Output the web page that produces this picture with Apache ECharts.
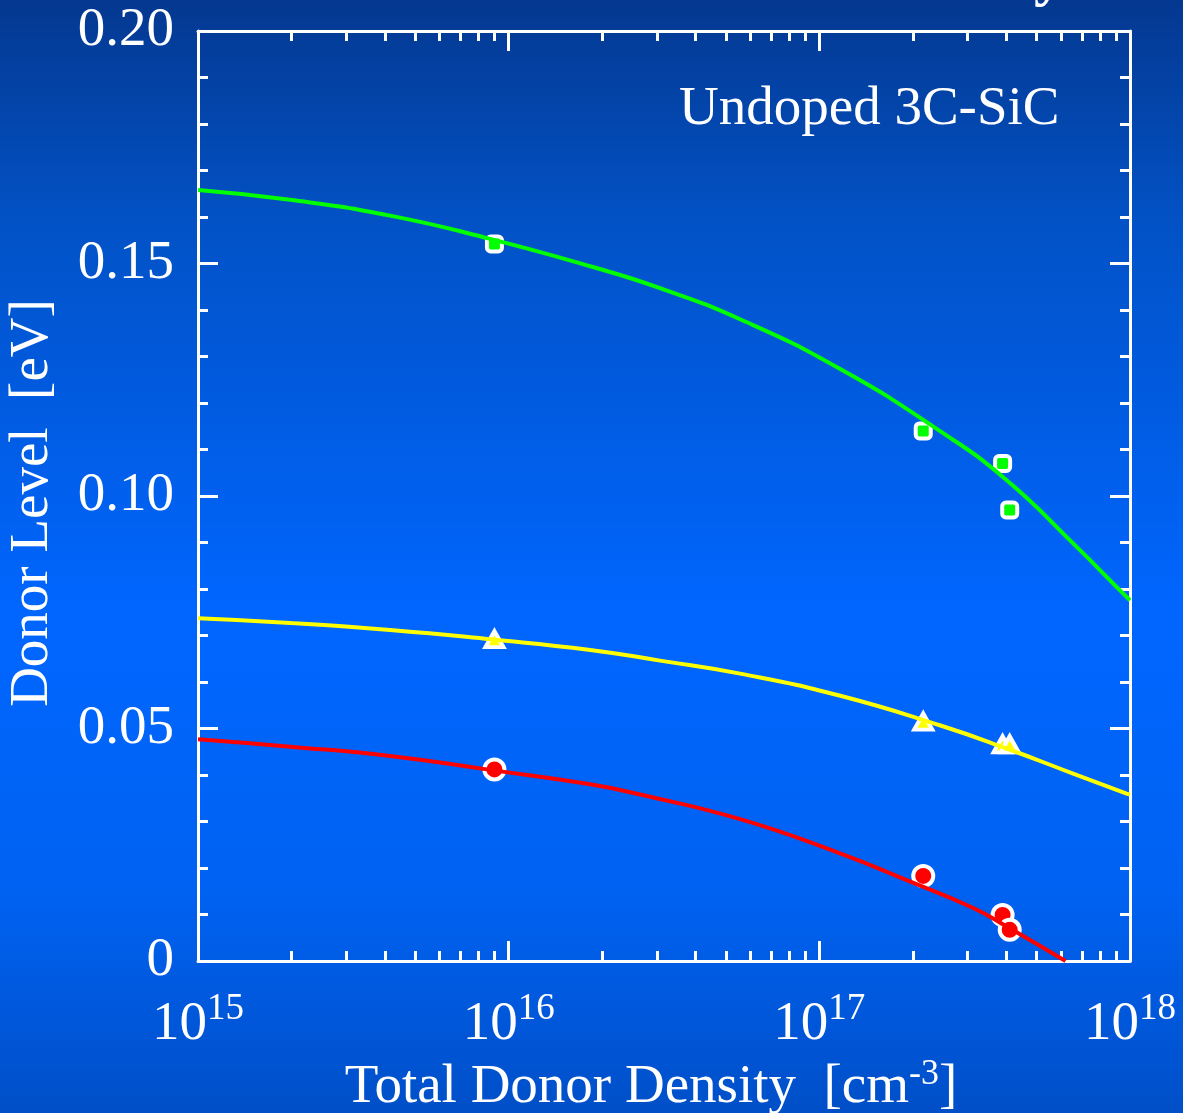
<!DOCTYPE html>
<html><head><meta charset="utf-8">
<script src="https://cdn.jsdelivr.net/npm/echarts@6/dist/echarts.min.js"></script>
<style>html,body{margin:0;padding:0;background:#0060f0}#c{width:1183px;height:1113px}</style>
</head><body><div id="c"></div>
<script>
// ---- data ----
const curveDensityGY = [1.0e15, 1.98e15, 4.15e15, 8.71e15, 1.83e16, 3.07e16, 5.56e16, 1.16e17, 2.44e17, 4.01e17, 6.56e17, 9.75e17, 1.0e18];
const curveGreen  = [0.1658, 0.1637, 0.1603, 0.1553, 0.1494, 0.1447, 0.1380, 0.1274, 0.1140, 0.1034, 0.0898, 0.0783, 0.0776];
const curveYellow = [0.0737, 0.0727, 0.0712, 0.0692, 0.0669, 0.0646, 0.0618, 0.0571, 0.0507, 0.0457, 0.0403, 0.0360, 0.0358];
const curveDensityR = [1.0e15, 1.98e15, 4.15e15, 8.71e15, 1.83e16, 2.65e16, 5.56e16, 1.16e17, 1.91e17, 3.13e17, 4.01e17, 6.2e17];
const curveRed    = [0.0477, 0.0461, 0.0441, 0.0411, 0.0380, 0.0358, 0.0305, 0.0232, 0.0174, 0.0114, 0.0074, 0.0];
const sampleDensity = [9.0e15, 2.16e17, 3.89e17, 4.10e17];
const pointsGreen  = [0.1542, 0.1140, 0.1070, 0.0970];
const pointsYellow = [0.0692, 0.0515, 0.0466, 0.0466];
const pointsRed    = [0.0412, 0.0183, 0.0099, 0.0067];
const xTickExponents = ['15', '16', '17', '18'];
const xMinorTicks = [];
[1e15, 1e16, 1e17].forEach(d => { for (let m = 2; m <= 9; m++) xMinorTicks.push(m * d); });
const yTickLabels = ['0', '0.05', '0.10', '0.15', '0.20'];
const textNote = 'Undoped 3C-SiC';
const xName = 'Total Donor Density  [cm{s|-3}]';
const yName = 'Donor Level  [eV]';

const FONT = '"Liberation Serif", "DejaVu Serif", serif';
const WHITE = '#ffffff';
const zip = (xs, ys) => xs.map((x, i) => [x, ys[i]]);

const chart = echarts.init(document.getElementById('c'), null, {renderer: 'canvas'});

function xAxisDef(pos, minor, main) {
  const tick = {show: true, inside: true, length: minor ? 10 : 20, lineStyle: {color: WHITE, width: 3}};
  if (minor) tick.customValues = xMinorTicks;
  return {
    type: 'log', logBase: 10, min: 1e15, max: 1e18, position: pos, gridIndex: 0,
    axisLine: {show: !minor, lineStyle: {color: WHITE, width: 3}},
    axisTick: tick,
    axisLabel: main ? {
      show: true, margin: 30, showMaxLabel: true, showMinLabel: true, hideOverlap: false,
      formatter: v => {
        const i = Math.round(Math.log10(v)) - 15;
        return '{b|10}{s|' + xTickExponents[Math.max(0, Math.min(3, i))] + '}';
      },
      rich: {
        b: {fontFamily: FONT, fontSize: 55, color: WHITE},
        s: {fontFamily: FONT, fontSize: 37, color: WHITE, padding: [0, 0, 30, 0]}
      }
    } : {show: false},
    splitLine: {show: false},
    name: main ? xName : '',
    nameLocation: 'middle', nameGap: 92,
    nameTextStyle: {fontFamily: FONT, fontSize: 55, color: WHITE, padding: [0, 26, 0, 0],
      rich: {s: {fontFamily: FONT, fontSize: 36, color: WHITE, padding: [0, 0, 26, 0]}}}
  };
}
function yAxisDef(pos, main) {
  return {
    type: 'value', min: 0, max: 0.2, interval: 0.05, position: pos,
    axisLine: {show: true, lineStyle: {color: WHITE, width: 3}},
    axisTick: {show: true, inside: true, length: 20, lineStyle: {color: WHITE, width: 3}},
    minorTick: {show: true, splitNumber: 5, length: 10, lineStyle: {color: WHITE, width: 3}},
    axisLabel: main ? {
      show: true, margin: 24, color: WHITE, fontFamily: FONT, fontSize: 55,
      formatter: v => yTickLabels[Math.round(v / 0.05)]
    } : {show: false},
    splitLine: {show: false},
    name: main ? yName : '',
    nameLocation: 'middle', nameGap: 138, nameRotate: 90,
    nameTextStyle: {fontFamily: FONT, fontSize: 55, color: WHITE, padding: [0, 14, 0, 0]}
  };
}

const option = {
  animation: false,
  backgroundColor: new echarts.graphic.LinearGradient(0, 0, 0, 1, [
    {offset: 0, color: '#043890'},
    {offset: 0.2, color: '#0252c6'},
    {offset: 0.55, color: '#0066ff'},
    {offset: 0.8, color: '#0062f2'},
    {offset: 1, color: '#004fc8'}
  ]),
  grid: {left: 198, top: 31, width: 932, height: 930, containLabel: false, outerBoundsMode: 'none'},
  xAxis: [xAxisDef('bottom', false, true), xAxisDef('bottom', true, false),
          xAxisDef('top', false, false), xAxisDef('top', true, false)],
  yAxis: [yAxisDef('left', true), yAxisDef('right', false)],
  graphic: [
    {type: 'text', left: 679, top: 82, z: 100,
     style: {text: textNote, fill: WHITE, font: '55px ' + FONT}},
    {type: 'text', left: 1034, top: -52, z: 100,
     style: {text: 'y', fill: WHITE, font: 'bold 60px ' + FONT}}
  ],
  series: [
    {type: 'scatter', xAxisIndex: 0, yAxisIndex: 0, z: 2, data: zip(sampleDensity, pointsGreen),
     symbol: 'roundRect', symbolSize: 15, itemStyle: {color: '#00ff00', borderColor: WHITE, borderWidth: 4, opacity: 1}},
    {type: 'scatter', xAxisIndex: 0, yAxisIndex: 0, z: 2, data: zip(sampleDensity, pointsYellow),
     symbol: 'triangle', symbolSize: [18, 16], itemStyle: {color: '#ffff00', borderColor: WHITE, borderWidth: 4, opacity: 1}},
    {type: 'scatter', xAxisIndex: 0, yAxisIndex: 0, z: 2, data: zip(sampleDensity, pointsRed),
     symbol: 'circle', symbolSize: 20, itemStyle: {color: '#ff0000', borderColor: WHITE, borderWidth: 4, opacity: 1}},
    {type: 'line', xAxisIndex: 0, yAxisIndex: 0, z: 3, data: zip(curveDensityGY, curveGreen),
     smooth: 0.5, showSymbol: false, lineStyle: {color: '#00ff00', width: 4}},
    {type: 'line', xAxisIndex: 0, yAxisIndex: 0, z: 3, data: zip(curveDensityGY, curveYellow),
     smooth: 0.5, showSymbol: false, lineStyle: {color: '#ffff00', width: 4}},
    {type: 'line', xAxisIndex: 0, yAxisIndex: 0, z: 3, data: zip(curveDensityR, curveRed),
     smooth: 0.5, showSymbol: false, lineStyle: {color: '#ff0000', width: 4}}
  ]
};
chart.setOption(option);
</script>
</body></html>
